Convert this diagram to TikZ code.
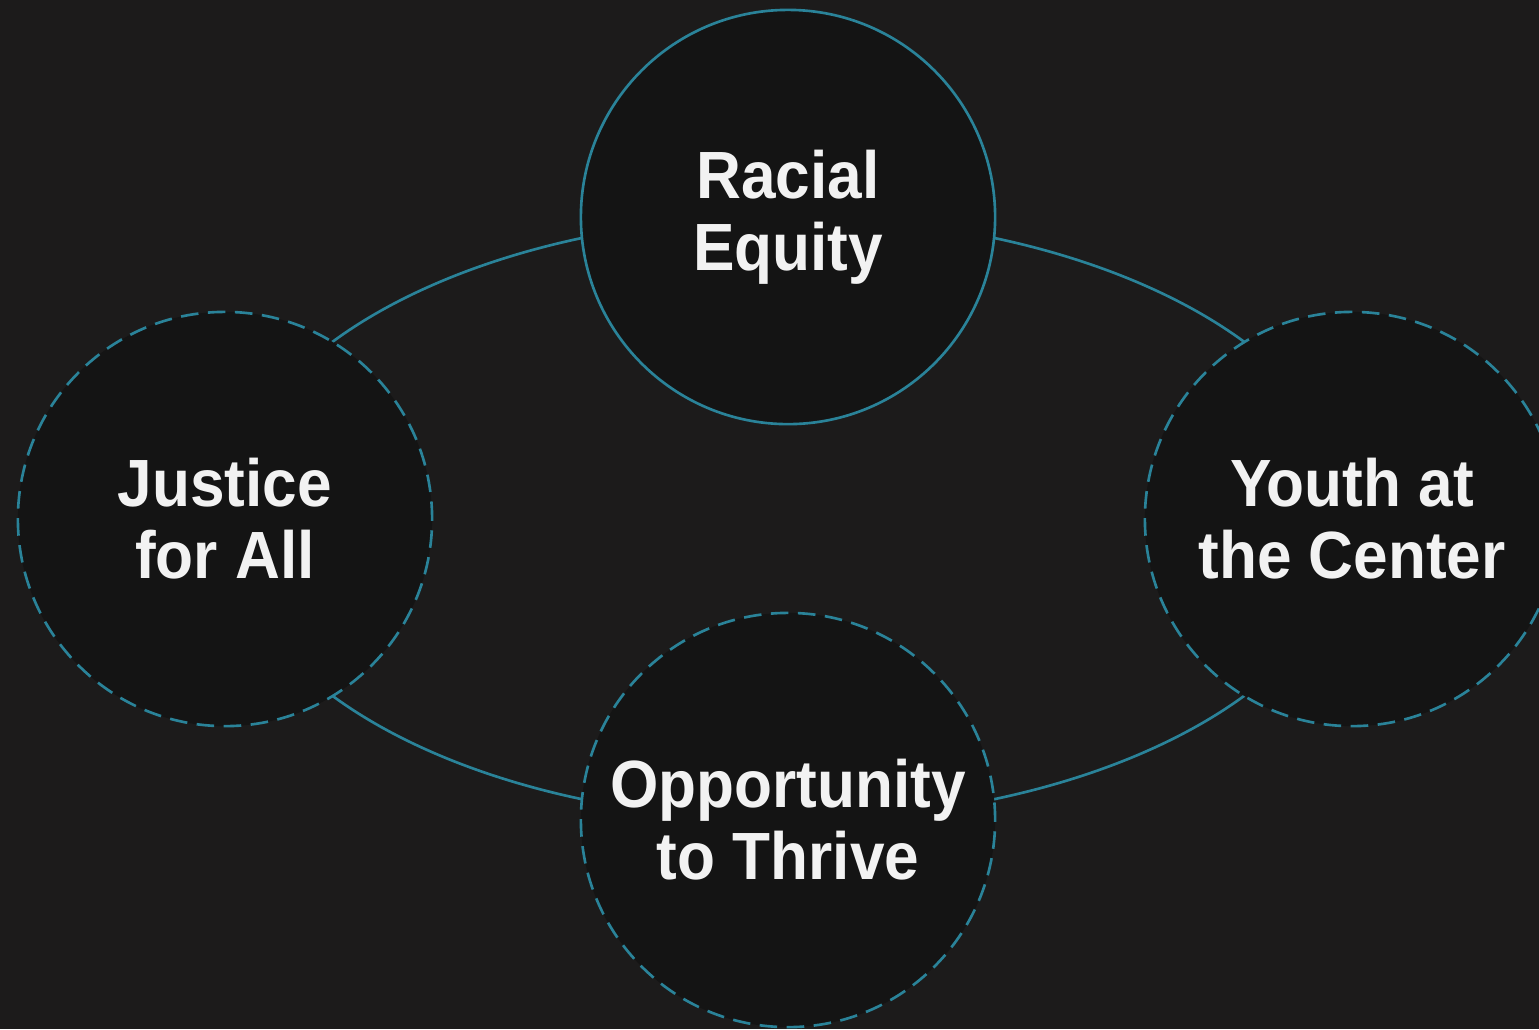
\documentclass[tikz,border=0pt]{standalone}
\usepackage{fontspec}
\setmainfont{Liberation Sans}[FakeStretch=0.93]
\usepackage{xcolor}
\definecolor{pagebg}{HTML}{1C1B1B}
\definecolor{discbg}{HTML}{141414}
\definecolor{ringcol}{HTML}{2A8399}
\definecolor{labelcol}{HTML}{F2F2F2}
\pgfdeclarelayer{bg}
\pgfsetlayers{bg,main}

\tikzset{
  value/.style={circle, minimum size=4.14cm, inner sep=0pt, fill=discbg,
    draw=ringcol, line width=0.75pt, text=labelcol, align=center,
    font=\fontsize{19}{20.5}\selectfont\bfseries},
  core/.style={value},
  aim/.style={value, dash pattern=on 5pt off 2.7pt},
  link/.style={draw=ringcol, line width=0.75pt}
}

\begin{document}
\begin{tikzpicture}[x=0.01cm, y=-0.01cm]
  \begin{pgfonlayer}{bg}
    \fill[pagebg] (0,0) rectangle (1539,1029);
  \end{pgfonlayer}
  \useasboundingbox (0,0) rectangle (1539,1029);

  % the four values
  \node[core] (racial) at (788,217) {Racial\\Equity};
  \node[aim] (justice) at (225,519) {Justice\\for All};
  \node[aim] (youth) at (1352,519) {Youth at\\the Center};
  \node[aim] (thrive) at (788,820) {Opportunity\\to Thrive};

  % ring joining them, hidden under the discs
  \begin{pgfonlayer}{bg}
    \draw[link] (racial.center) .. controls +(-311,0) and +(0,-166) .. (justice.center);
    \draw[link] (justice.center) .. controls +(0,166) and +(-311,0) .. (thrive.center);
    \draw[link] (thrive.center) .. controls +(311,0) and +(0,166) .. (youth.center);
    \draw[link] (youth.center) .. controls +(0,-166) and +(311,0) .. (racial.center);
  \end{pgfonlayer}
\end{tikzpicture}
\end{document}
